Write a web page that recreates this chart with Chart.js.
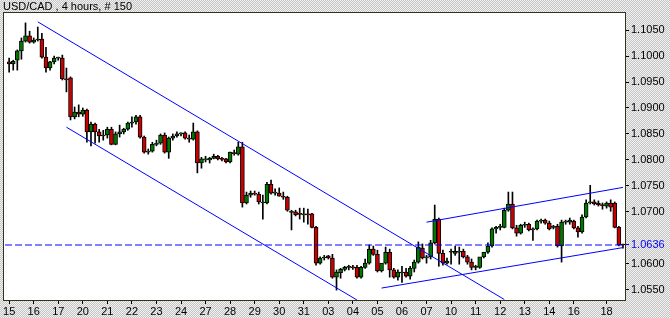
<!DOCTYPE html>
<html>
<head>
<meta charset="utf-8">
<script src="https://cdn.jsdelivr.net/npm/chart.js@4.4.1/dist/chart.umd.min.js"></script>
<style>
  html, body { margin: 0; padding: 0; }
  body {
    width: 670px; height: 318px; overflow: hidden;
    background: repeating-conic-gradient(#c4c4c4 0% 25%, #f2f2f2 0% 50%) 0 0 / 2px 2px;
  }
</style>
</head>
<body>
<canvas id="chart" width="670" height="318"></canvas>
<script>
// USD/CAD 4 hour candles
const opens = [
  1.0989, 1.0985, 1.0992, 1.1010, 1.1029, 1.1039, 1.1027, 1.1031, 1.1033, 1.0998, 1.0977, 1.0989, 1.0996, 1.0996, 1.0956,
  1.0958, 1.0883, 1.0892, 1.0888, 1.0896, 1.0854, 1.0869, 1.0854, 1.0846, 1.0848, 1.0859, 1.0830, 1.0850, 1.0854, 1.0859,
  1.0871, 1.0873, 1.0883, 1.0844, 1.0815, 1.0817, 1.0830, 1.0832, 1.0848, 1.0815, 1.0842, 1.0846, 1.0850, 1.0852, 1.0842,
  1.0840, 1.0854, 1.0794, 1.0800, 1.0800, 1.0803, 1.0807, 1.0802, 1.0802, 1.0796, 1.0813, 1.0811, 1.0825, 1.0717, 1.0732,
  1.0736, 1.0734, 1.0717, 1.0717, 1.0753, 1.0736, 1.0736, 1.0730, 1.0728, 1.0699, 1.0700, 1.0696, 1.0694, 1.0695, 1.0696,
  1.0670, 1.0601, 1.0611, 1.0615, 1.0611, 1.0574, 1.0582, 1.0589, 1.0593, 1.0593, 1.0593, 1.0574, 1.0593, 1.0601, 1.0628,
  1.0618, 1.0586, 1.0601, 1.0622, 1.0588, 1.0574, 1.0582, 1.0584, 1.0576, 1.0591, 1.0603, 1.0630, 1.0611, 1.0613, 1.0640,
  1.0686, 1.0620, 1.0601, 1.0622, 1.0620, 1.0622, 1.0624, 1.0613, 1.0603, 1.0593, 1.0593, 1.0613, 1.0622, 1.0634, 1.0667,
  1.0670, 1.0670, 1.0703, 1.0715, 1.0669, 1.0659, 1.0674, 1.0676, 1.0665, 1.0667, 1.0682, 1.0684, 1.0678, 1.0670, 1.0672,
  1.0634, 1.0680, 1.0680, 1.0682, 1.0669, 1.0661, 1.0690, 1.0717, 1.0719, 1.0717, 1.0713, 1.0711, 1.0717, 1.0717, 1.0670, 1.0637
]
const highs = [
  1.0996, 1.0992, 1.1012, 1.1035, 1.1064, 1.1048, 1.1035, 1.1056, 1.1044, 1.1017, 1.0990, 1.1000, 1.0998, 1.1002, 1.0977,
  1.0960, 1.0902, 1.0906, 1.0900, 1.0898, 1.0873, 1.0871, 1.0859, 1.0857, 1.0863, 1.0863, 1.0854, 1.0867, 1.0861, 1.0873,
  1.0883, 1.0886, 1.0886, 1.0846, 1.0821, 1.0834, 1.0838, 1.0850, 1.0852, 1.0844, 1.0850, 1.0854, 1.0852, 1.0854, 1.0848,
  1.0871, 1.0856, 1.0805, 1.0807, 1.0805, 1.0811, 1.0809, 1.0805, 1.0803, 1.0815, 1.0819, 1.0834, 1.0834, 1.0738, 1.0740,
  1.0740, 1.0738, 1.0732, 1.0757, 1.0761, 1.0744, 1.0746, 1.0738, 1.0730, 1.0703, 1.0703, 1.0707, 1.0707, 1.0705, 1.0697,
  1.0672, 1.0613, 1.0616, 1.0616, 1.0618, 1.0588, 1.0591, 1.0595, 1.0597, 1.0597, 1.0597, 1.0595, 1.0609, 1.0636, 1.0634,
  1.0626, 1.0595, 1.0632, 1.0628, 1.0591, 1.0588, 1.0595, 1.0591, 1.0595, 1.0607, 1.0642, 1.0638, 1.0616, 1.0645, 1.0713,
  1.0688, 1.0626, 1.0611, 1.0628, 1.0634, 1.0632, 1.0628, 1.0616, 1.0609, 1.0597, 1.0609, 1.0622, 1.0640, 1.0669, 1.0672,
  1.0676, 1.0707, 1.0738, 1.0738, 1.0674, 1.0676, 1.0680, 1.0678, 1.0669, 1.0684, 1.0686, 1.0686, 1.0682, 1.0674, 1.0676,
  1.0684, 1.0684, 1.0688, 1.0684, 1.0672, 1.0694, 1.0723, 1.0751, 1.0723, 1.0721, 1.0717, 1.0719, 1.0723, 1.0719, 1.0672, 1.0638
]
const lows = [
  1.0969, 1.0973, 1.0973, 1.0994, 1.1027, 1.1025, 1.1025, 1.1029, 1.0996, 1.0969, 1.0973, 1.0985, 1.0992, 1.0954, 1.0931,
  1.0877, 1.0879, 1.0883, 1.0884, 1.0834, 1.0827, 1.0832, 1.0834, 1.0838, 1.0842, 1.0829, 1.0829, 1.0844, 1.0850, 1.0857,
  1.0863, 1.0869, 1.0842, 1.0813, 1.0811, 1.0815, 1.0827, 1.0830, 1.0813, 1.0803, 1.0838, 1.0844, 1.0846, 1.0840, 1.0834,
  1.0838, 1.0775, 1.0784, 1.0796, 1.0794, 1.0802, 1.0800, 1.0798, 1.0794, 1.0794, 1.0809, 1.0809, 1.0709, 1.0715, 1.0728,
  1.0732, 1.0715, 1.0686, 1.0715, 1.0734, 1.0732, 1.0730, 1.0724, 1.0701, 1.0665, 1.0692, 1.0686, 1.0680, 1.0676, 1.0669,
  1.0597, 1.0599, 1.0607, 1.0609, 1.0572, 1.0549, 1.0572, 1.0586, 1.0588, 1.0589, 1.0572, 1.0572, 1.0591, 1.0599, 1.0616,
  1.0584, 1.0584, 1.0599, 1.0574, 1.0572, 1.0568, 1.0564, 1.0574, 1.0570, 1.0584, 1.0601, 1.0609, 1.0601, 1.0609, 1.0638,
  1.0595, 1.0597, 1.0599, 1.0599, 1.0616, 1.0599, 1.0611, 1.0599, 1.0588, 1.0588, 1.0591, 1.0611, 1.0620, 1.0632, 1.0659,
  1.0665, 1.0669, 1.0701, 1.0667, 1.0653, 1.0657, 1.0670, 1.0663, 1.0645, 1.0665, 1.0678, 1.0676, 1.0665, 1.0667, 1.0632,
  1.0603, 1.0676, 1.0676, 1.0667, 1.0651, 1.0659, 1.0688, 1.0715, 1.0713, 1.0711, 1.0705, 1.0707, 1.0701, 1.0669, 1.0634, 1.0630
]
const closes = [
  1.0985, 1.0990, 1.1010, 1.1029, 1.1039, 1.1027, 1.1031, 1.1033, 1.0998, 1.0977, 1.0989, 1.0996, 1.0997, 1.0956, 1.0954,
  1.0883, 1.0892, 1.0888, 1.0896, 1.0854, 1.0869, 1.0854, 1.0846, 1.0848, 1.0859, 1.0830, 1.0850, 1.0854, 1.0859, 1.0871,
  1.0873, 1.0883, 1.0844, 1.0815, 1.0817, 1.0830, 1.0832, 1.0848, 1.0815, 1.0842, 1.0846, 1.0850, 1.0852, 1.0842, 1.0840,
  1.0854, 1.0794, 1.0802, 1.0801, 1.0803, 1.0807, 1.0802, 1.0801, 1.0796, 1.0815, 1.0812, 1.0825, 1.0717, 1.0732, 1.0736,
  1.0734, 1.0719, 1.0718, 1.0753, 1.0736, 1.0737, 1.0730, 1.0728, 1.0703, 1.0700, 1.0694, 1.0695, 1.0695, 1.0694, 1.0670,
  1.0601, 1.0611, 1.0612, 1.0611, 1.0574, 1.0584, 1.0589, 1.0593, 1.0594, 1.0592, 1.0574, 1.0593, 1.0601, 1.0628, 1.0618,
  1.0586, 1.0601, 1.0622, 1.0588, 1.0574, 1.0584, 1.0584, 1.0576, 1.0591, 1.0603, 1.0632, 1.0611, 1.0613, 1.0640, 1.0686,
  1.0620, 1.0601, 1.0605, 1.0623, 1.0624, 1.0622, 1.0613, 1.0603, 1.0593, 1.0594, 1.0613, 1.0622, 1.0634, 1.0667, 1.0670,
  1.0671, 1.0703, 1.0715, 1.0669, 1.0659, 1.0674, 1.0676, 1.0665, 1.0667, 1.0682, 1.0683, 1.0678, 1.0667, 1.0671, 1.0634,
  1.0680, 1.0682, 1.0684, 1.0669, 1.0661, 1.0690, 1.0717, 1.0719, 1.0715, 1.0713, 1.0712, 1.0717, 1.0709, 1.0670, 1.0636, 1.0636
]

// day labels on the time axis and the bar where each day starts (slot 0 is left empty)
const dayNames = ["15", "16", "17", "20", "21", "22", "23", "24", "27", "28", "29", "30", "31", "03", "04", "05", "06", "07", "10", "11", "12", "13", "14", "16", "18"]
const dayStart = [1, 7, 13, 19, 25, 31, 37, 43, 49, 55, 61, 67, 73, 79, 85, 91, 97, 103, 109, 115, 121, 127, 133, 139, 147]

const priceTicks = [1.0550, 1.0600, 1.0700, 1.0750, 1.0800, 1.0850, 1.0900, 1.0950, 1.1000, 1.1050]
const lastPrice = 1.0636

// trend lines: [bar, price] at both ends
const channelDownUpper = [[8, 1.1066], [122, 1.0531]]
const channelDownLower = [[15, 1.0863], [86, 1.0530]]
const channelUpUpper = [[103, 1.0680], [151, 1.0747]]
const channelUpLower = [[92, 1.0553], [151, 1.0631]]

const bullColour = "#007800"
const bearColour = "#c80000"
const lineColour = "#0000ff"

const slotCount = opens.length + 1
const labels = new Array(slotCount).fill("")
dayStart.forEach((slot, i) => labels[slot] = dayNames[i])

const bodies = [null], wicks = [null], bodyColours = ["#000"]
opens.forEach((open, i) => {
  bodies.push([open, closes[i]])
  wicks.push([lows[i], highs[i]])
  bodyColours.push(closes[i] >= open ? bullColour : bearColour)
})

function trendData(points) {
  const data = new Array(slotCount).fill(null)
  points.forEach(([slot, price]) => data[slot] = price)
  return data
}

const trendDataset = points => ({
  type: "line", data: trendData(points), borderColor: lineColour, borderWidth: 1,
  pointRadius: 0, spanGaps: true, tension: 0
})

//White plot area with dark frame
const framePlugin = {
  id: "frame",
  beforeDraw(chart) {
    const { ctx, chartArea: a } = chart
    ctx.save()
    ctx.fillStyle = "#fff"
    ctx.fillRect(a.left, a.top, a.right - a.left, a.bottom - a.top)
    ctx.restore()
  },
  afterDraw(chart) {
    const { ctx, chartArea: a } = chart
    ctx.save()
    ctx.strokeStyle = "#33331a"
    ctx.lineWidth = 1
    ctx.strokeRect(a.left + 0.5, a.top + 0.5, a.right - a.left, a.bottom - a.top)
    ctx.restore()
  }
}

Chart.defaults.font.family = "'Liberation Sans', Arial, sans-serif"
Chart.defaults.font.size = 11
Chart.defaults.color = "#000"

new Chart(document.getElementById("chart").getContext("2d"), {
  type: "bar",
  data: {
    labels: labels,
    datasets: [
      trendDataset(channelDownUpper),
      trendDataset(channelDownLower),
      trendDataset(channelUpUpper),
      trendDataset(channelUpLower),
      {
        type: "line", data: new Array(slotCount).fill(lastPrice), borderColor: lineColour,
        borderWidth: 1.2, borderDash: [7, 3], pointRadius: 0
      },
      {
        data: bodies, backgroundColor: bodyColours, borderColor: "#000", borderWidth: 1,
        borderSkipped: false, barThickness: 4, minBarLength: 1, grouped: false
      },
      { data: wicks, backgroundColor: "#000", borderWidth: 0, barThickness: 1, grouped: false }
    ]
  },
  options: {
    responsive: false,
    animation: false,
    layout: { padding: { left: 3, right: 0, top: 0, bottom: 0 } },
    plugins: {
      legend: { display: false },
      tooltip: { enabled: false },
      title: {
        display: true, text: "USD/CAD , 4 hours, # 150", align: "start", color: "#000",
        font: { size: 11, weight: "normal", lineHeight: 1 }, padding: { top: 1, bottom: 0 }
      }
    },
    scales: {
      x: {
        type: "category",
        offset: true,
        grid: { drawOnChartArea: false, tickLength: 4, color: "#000", offset: false },
        border: { display: false },
        ticks: { autoSkip: false, maxRotation: 0, padding: 1, color: "#000" },
        afterBuildTicks: scale => { scale.ticks = scale.ticks.filter(t => labels[t.value] !== "") },
        afterFit: scale => { scale.height = 18 }
      },
      y: {
        position: "right",
        min: 1.0530,
        max: 1.1085,
        grid: {
          drawOnChartArea: false, tickLength: 4,
          color: ctx => ctx.tick && ctx.tick.value === lastPrice ? lineColour : "#000"
        },
        border: { display: false },
        ticks: {
          autoSkip: false, padding: 2,
          color: ctx => ctx.tick && ctx.tick.value === lastPrice ? lineColour : "#000",
          callback: value => value.toFixed(4)
        },
        afterBuildTicks: scale => { scale.ticks = priceTicks.concat([lastPrice]).map(v => ({ value: v })) },
        afterFit: scale => { scale.width = 45 }
      }
    }
  },
  plugins: [framePlugin]
})
</script>
</body>
</html>
